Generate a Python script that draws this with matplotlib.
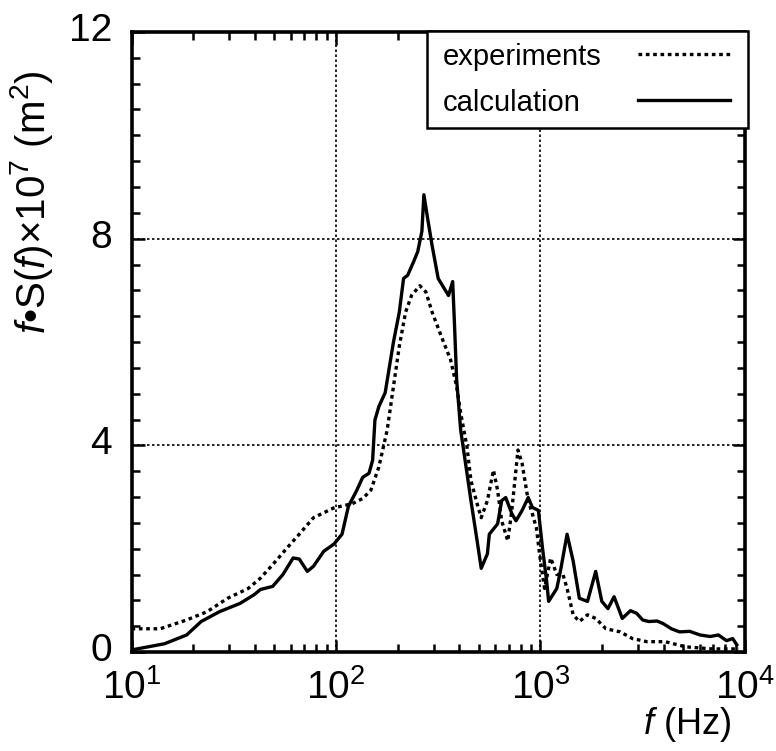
import matplotlib
matplotlib.use("Agg")
import matplotlib.pyplot as plt
import matplotlib.ticker as ticker
import matplotlib.transforms as mtransforms
from matplotlib.patches import Rectangle

plt.rcParams['font.family'] = ['Liberation Sans', 'DejaVu Sans']
plt.rcParams['mathtext.fontset'] = 'custom'
plt.rcParams['mathtext.rm'] = 'Liberation Sans'
plt.rcParams['mathtext.it'] = 'Liberation Sans:italic'

# experiments (dotted), frequency in Hz, f*S(f) x 1e7 in m^2
exp_freq = [10, 13.8, 18.6, 23.4, 29.5, 37.2, 42.7, 49.0, 57.5, 66.1, 77.6, 97.7,
            120, 135, 148, 162, 178, 191, 204, 219, 234, 257, 275, 295, 331, 363,
            389, 407, 437, 457, 490, 513, 550, 589, 617, 646, 692, 724, 776, 813,
            871, 912, 955, 1000, 1047, 1122, 1202, 1288, 1349, 1445, 1549, 1698,
            1862, 2089, 2455, 2818, 3311, 4074, 5129, 6918, 9333]
exp_val = [0.45, 0.45, 0.62, 0.78, 1.04, 1.23, 1.43, 1.69, 2.01, 2.28, 2.60, 2.79,
           2.87, 2.97, 3.13, 3.58, 4.30, 5.14, 5.92, 6.58, 6.90, 7.09, 6.97, 6.58,
           6.06, 5.66, 5.14, 4.63, 3.97, 3.32, 2.87, 2.60, 2.93, 3.52, 3.13, 2.54,
           2.15, 2.74, 3.91, 3.65, 2.93, 2.68, 2.40, 1.76, 1.23, 1.82, 1.50, 1.50,
           1.23, 0.72, 0.59, 0.72, 0.65, 0.45, 0.39, 0.26, 0.20, 0.20, 0.10, 0.06,
           0.06]

# calculation (solid)
calc_freq = [10, 14.5, 18.6, 21.9, 26.9, 33.9, 39.8, 42.7, 49.0, 55.0, 61.7, 66.1,
             72.4, 77.6, 87.1, 97.7, 107, 115, 126, 135, 145, 151, 155, 162, 174,
             191, 204, 214, 224, 240, 251, 263, 269, 282, 295, 316, 339, 355, 372,
             380, 389, 407, 437, 457, 490, 513, 550, 562, 617, 646, 676, 724, 759,
             813, 871, 912, 977, 1023, 1072, 1096, 1202, 1259, 1349, 1445, 1549,
             1698, 1862, 1995, 2138, 2291, 2512, 2754, 2951, 3162, 3388, 3715, 3981,
             4365, 4786, 5370, 6026, 6761, 7413, 8128, 8710, 9120]
calc_val = [0.04, 0.16, 0.33, 0.59, 0.78, 0.94, 1.11, 1.21, 1.27, 1.50, 1.82, 1.80,
            1.56, 1.66, 1.95, 2.09, 2.28, 2.82, 3.12, 3.38, 3.46, 3.71, 4.49, 4.75,
            5.02, 6.00, 6.58, 7.23, 7.29, 7.56, 7.75, 8.14, 8.85, 8.34, 7.87, 7.23,
            7.03, 6.90, 7.17, 6.31, 5.27, 4.30, 3.46, 2.93, 2.15, 1.62, 1.90, 2.28,
            2.48, 2.93, 2.99, 2.68, 2.54, 2.74, 2.99, 2.80, 2.74, 2.01, 1.37, 0.98,
            1.23, 1.62, 2.28, 1.76, 1.04, 0.98, 1.56, 0.98, 0.84, 1.07, 0.65, 0.80,
            0.75, 0.62, 0.59, 0.60, 0.55, 0.45, 0.39, 0.40, 0.33, 0.30, 0.33, 0.22,
            0.26, 0.14]

x_ticks = [10, 100, 1000, 10000]
x_tick_labels = [r'$\mathregular{10^{1}}$', r'$\mathregular{10^{2}}$',
                 r'$\mathregular{10^{3}}$', r'$\mathregular{10^{4}}$']
y_ticks = [0, 4, 8, 12]
series_labels = ['experiments', 'calculation']

fig = plt.figure(figsize=(7.76, 7.51), dpi=100)
ax = fig.add_axes([0.1695, 0.1318, 0.7905, 0.8256])

ax.plot(exp_freq, exp_val, color='black', linewidth=2.4,
        linestyle=(0, (1.1, 1.1)))
ax.plot(calc_freq, calc_val, color='black', linewidth=2.4, linestyle='-')

ax.set_xscale('log')
ax.set_xlim(10, 10000)
ax.set_ylim(0, 12)
ax.set_xticks(x_ticks)
ax.set_xticklabels(x_tick_labels)
ax.xaxis.set_minor_locator(ticker.LogLocator(base=10, subs=range(2, 10)))
ax.xaxis.set_minor_formatter(ticker.NullFormatter())
ax.set_yticks(y_ticks)
ax.yaxis.set_minor_locator(ticker.MultipleLocator(0.5))

ax.grid(True, which='major', color='black', linestyle=(0, (1.5, 1.5)),
        linewidth=1.2)

ax.tick_params(which='both', direction='in', top=True, right=True,
               width=1.8, colors='black')
ax.tick_params(which='major', length=9, labelsize=28)
ax.tick_params(which='minor', length=6)
ax.tick_params(axis='x', which='major', pad=12)
ax.tick_params(axis='y', which='major', pad=14)

# y tick labels sit a little above their ticks in the original
offset = mtransforms.ScaledTranslation(0, 5 / 100, fig.dpi_scale_trans)
for lab in ax.get_yticklabels():
    lab.set_transform(lab.get_transform() + offset)

for sp in ax.spines.values():
    sp.set_linewidth(2.6)

ax.set_ylabel(r'$\it{f}$•S($\it{f}$)×10$^7$ (m$^2$)', fontsize=29)
ax.yaxis.set_label_coords(-0.125, 0.726)
ax.set_xlabel(r'$\it{f}$ (Hz)', fontsize=26)
ax.xaxis.set_label_coords(0.905, -0.085)

# legend box: text on the left, sample line on the right
ax.add_patch(Rectangle((0.4817, 0.845), 0.5233, 0.157, transform=ax.transAxes,
                       facecolor='white', edgecolor='black', linewidth=1.8,
                       clip_on=False, zorder=5))
leg_y = [0.960, 0.886]
leg_styles = [(0, (1.1, 1.1)), '-']
for lbl, ly, ls in zip(series_labels, leg_y, leg_styles):
    ax.text(0.508, ly, lbl, transform=ax.transAxes, fontsize=21,
            va='center', ha='left', zorder=6)
    ax.plot([0.826, 0.975], [ly + 0.004, ly + 0.004], transform=ax.transAxes,
            color='black', linewidth=2.4, linestyle=ls, zorder=6,
            clip_on=False)

fig.savefig('out.png', dpi=100)
